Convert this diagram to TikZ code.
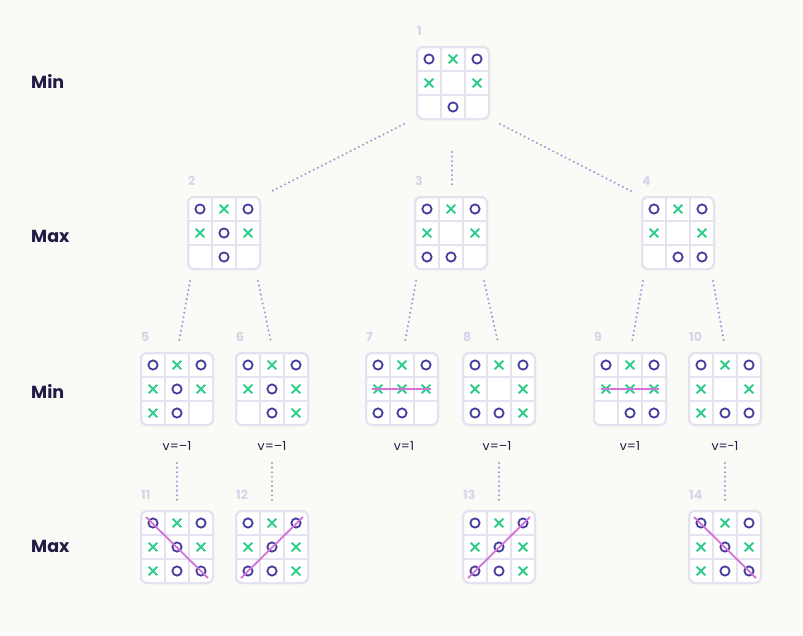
\documentclass[tikz,border=0pt]{standalone}
\usepackage{fontspec}
\setmainfont{Poppins}
\definecolor{bg}{HTML}{FBFAF7}
\definecolor{gridc}{HTML}{E3E2EE}
\definecolor{ocol}{HTML}{443D9E}
\definecolor{xcol}{HTML}{2ED08C}
\definecolor{wincol}{HTML}{D373D8}
\definecolor{dotcol}{HTML}{9E98D6}
\definecolor{numcol}{HTML}{D6D4E8}
\definecolor{navy}{HTML}{1F1D45}
\tikzset{
  boardbox/.style={draw=gridc, line width=2pt, rounded corners=6pt, fill=white, minimum size=72pt, inner sep=0pt, outer sep=0pt},
  gridline/.style={draw=gridc, line width=2pt},
  omark/.style={draw=ocol, line width=1.8pt},
  xmark/.style={draw=xcol, line width=1.8pt},
  winline/.style={draw=wincol, line width=1.8pt},
  dotline/.style={draw=dotcol, line width=2.3pt, line cap=round, dash pattern=on 0pt off 4.6pt},
  numlabel/.style={text=numcol, font=\bfseries\fontsize{12.5}{12.5}\selectfont, anchor=west, inner sep=0pt},
  rowlabel/.style={text=navy, font=\bfseries\fontsize{17.5}{17.5}\selectfont, anchor=west, inner sep=0pt},
  vlabel/.style={text=navy, font=\fontsize{12.5}{12.5}\selectfont, inner sep=0pt},
  mkO/.pic={\draw[omark] (0,0) circle (4.6pt);},
  mkX/.pic={\draw[xmark] (-4.3,-4.3) -- (4.3,4.3) (-4.3,4.3) -- (4.3,-4.3);},
  mkE/.pic={},
}
% name, cx, cy, number, contents
\newcommand{\tttboard}[5]{%
  \node[boardbox] (#1) at (#2,#3) {};
  \node[numlabel] (#1n) at (#2-36,#3-52) {#4};
  \draw[gridline] (#2-12,#3-36) -- (#2-12,#3+36) (#2+12,#3-36) -- (#2+12,#3+36)
                  (#2-36,#3-12) -- (#2+36,#3-12) (#2-36,#3+12) -- (#2+36,#3+12);
  \node[boardbox, fill=none] at (#2,#3) {};
  \foreach \m [count=\k from 0] in {#5} {
    \pgfmathtruncatemacro{\rr}{div(\k,3)}
    \pgfmathtruncatemacro{\cc}{mod(\k,3)}
    \pic at (#2+\cc*24-24,#3+\rr*24-24) {mk\m};
  }
}
\begin{document}
\begin{tikzpicture}[x=1pt,y=-1pt]
\fill[bg] (0,0) rectangle (803,635);
\useasboundingbox (0,0) rectangle (803,635);

% row labels
\node[rowlabel] (r1) at (31,81) {Min};
\node[rowlabel] (r2) at (31,236) {Max};
\node[rowlabel] (r3) at (31,391) {Min};
\node[rowlabel] (r4) at (31,546) {Max};

% boards
\tttboard{b1}{453}{83}{1}{O,X,O,X,E,X,E,O,E}
\tttboard{b2}{224}{233}{2}{O,X,O,X,O,X,E,O,E}
\tttboard{b3}{451}{233}{3}{O,X,O,X,E,X,O,O,E}
\tttboard{b4}{678}{233}{4}{O,X,O,X,E,X,E,O,O}
\tttboard{b5}{177}{389}{5}{O,X,O,X,O,X,X,O,E}
\tttboard{b6}{272}{389}{6}{O,X,O,X,O,X,E,O,X}
\tttboard{b7}{402}{389}{7}{O,X,O,X,X,X,O,O,E}
\tttboard{b8}{499}{389}{8}{O,X,O,X,E,X,O,O,X}
\tttboard{b9}{630}{389}{9}{O,X,O,X,X,X,E,O,O}
\tttboard{b10}{725}{389}{10}{O,X,O,X,E,X,X,O,O}
\tttboard{b11}{177}{547}{11}{O,X,O,X,O,X,X,O,O}
\tttboard{b12}{272}{547}{12}{O,X,O,X,O,X,O,O,X}
\tttboard{b13}{499}{547}{13}{O,X,O,X,O,X,O,O,X}
\tttboard{b14}{725}{547}{14}{O,X,O,X,O,X,X,O,O}

% winning lines
\draw[winline] (402-30,389) -- (402+29,389);
\draw[winline] (630-29,389) -- (630+29,389);
\draw[winline] (177-31,547-30) -- (177+31,547+31);
\draw[winline] (272-31,547+31) -- (272+31,547-30);
\draw[winline] (499-31,547+31) -- (499+31,547-30);
\draw[winline] (725-31,547-30) -- (725+31,547+31);

% values
\node[vlabel] (v5) at (177,446) {v=\textendash1};
\node[vlabel] (v6) at (272,446) {v=\textendash1};
\node[vlabel] (v7) at (404,446) {v=1};
\node[vlabel] (v8) at (497,446) {v=\textendash1};
\node[vlabel] (v9) at (630,446) {v=1};
\node[vlabel] (v10) at (725,446) {v=-1};

% connector end points
\coordinate (e12a) at (404,124); \coordinate (e12b) at (272,191);
\coordinate (e13a) at (452,152); \coordinate (e13b) at (452,186);
\coordinate (e14a) at (500,124); \coordinate (e14b) at (633,192);
\coordinate (e25a) at (190,281); \coordinate (e25b) at (179,342);
\coordinate (e26a) at (258,281); \coordinate (e26b) at (271,342);
\coordinate (e37a) at (416,281); \coordinate (e37b) at (405,342);
\coordinate (e38a) at (484,281); \coordinate (e38b) at (498,342);
\coordinate (e49a) at (643,281); \coordinate (e49b) at (632,342);
\coordinate (e410a) at (713,281); \coordinate (e410b) at (724,342);
\coordinate (e511a) at (177,463); \coordinate (e511b) at (177,500);
\coordinate (e612a) at (272,463); \coordinate (e612b) at (272,500);
\coordinate (e813a) at (499,463); \coordinate (e813b) at (499,500);
\coordinate (e1014a) at (725,463); \coordinate (e1014b) at (725,500);

\foreach \p in {12,13,14,25,26,37,38,49,410,511,612,813,1014}
  \draw[dotline] (e\p a) -- (e\p b);
\end{tikzpicture}
\end{document}
